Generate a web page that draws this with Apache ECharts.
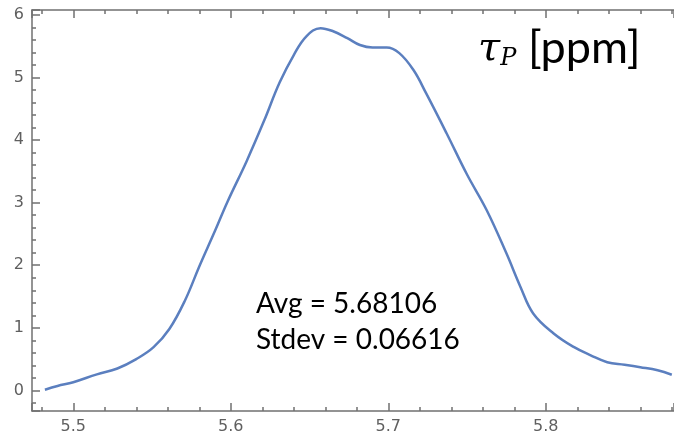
<!DOCTYPE html>
<html>
<head>
<meta charset="utf-8">
<script src="https://cdn.jsdelivr.net/npm/echarts@6/dist/echarts.min.js"></script>
<style>
  html, body { margin: 0; padding: 0; background: #ffffff; }
  #chart { width: 674px; height: 435px; }
</style>
</head>
<body>
<div id="chart"></div>
<script>
// Density estimate of tau_P (ppm)
const xValues = [
  5.482, 5.490, 5.500, 5.515, 5.528, 5.540, 5.551, 5.561, 5.571, 5.580,
  5.590, 5.598, 5.610, 5.621, 5.631, 5.640, 5.648, 5.657, 5.665, 5.674,
  5.682, 5.690, 5.699, 5.707, 5.716, 5.724, 5.737, 5.750, 5.7625, 5.775,
  5.784, 5.792, 5.805, 5.818, 5.8285, 5.839, 5.850, 5.860, 5.871, 5.880
];
const densityValues = [
  0.01, 0.07, 0.13, 0.256, 0.35, 0.50, 0.69, 0.98, 1.44, 1.98,
  2.55, 3.02, 3.66, 4.30, 4.92, 5.36, 5.66, 5.79, 5.74, 5.63,
  5.52, 5.48, 5.48, 5.39, 5.12, 4.75, 4.11, 3.45, 2.88, 2.19,
  1.65, 1.23, 0.91, 0.69, 0.56, 0.45, 0.41, 0.37, 0.32, 0.25
];
const xRange = [5.4738, 5.8814];
const yRange = [-0.33, 6.08];
const statLines = ['Avg = 5.68106', 'Stdev = 0.06616'];

const points = xValues.map((x, i) => [x, densityValues[i]]);

const frameColor = '#707070';
const labelColor = '#5f5f5f';

function frameLine() {
  return { show: true, onZero: false, lineStyle: { color: frameColor, width: 1.5 } };
}
function majorTicks() {
  return { show: true, inside: true, length: 8, lineStyle: { color: frameColor, width: 1.5 } };
}
function minorTicks() {
  return { show: true, splitNumber: 5, length: 4, lineStyle: { color: frameColor, width: 1.5 } };
}

const chart = echarts.init(document.getElementById('chart'), null, { renderer: 'canvas' });
chart.setOption({
  animation: false,
  backgroundColor: '#ffffff',
  grid: { left: 32, right: 0, top: 10, bottom: 24 },
  xAxis: [
    {
      type: 'value', position: 'bottom', min: xRange[0], max: xRange[1],
      axisLine: frameLine(),
      axisTick: majorTicks(),
      minorTick: minorTicks(),
      splitLine: { show: false },
      axisLabel: {
        show: true, showMinLabel: false, showMaxLabel: false, margin: 8,
        color: labelColor, fontSize: 16, fontFamily: 'DejaVu Sans',
        formatter: function (v) { return v.toFixed(1); }
      }
    },
    {
      type: 'value', position: 'top', min: xRange[0], max: xRange[1],
      axisLine: frameLine(),
      axisTick: majorTicks(),
      minorTick: minorTicks(),
      splitLine: { show: false },
      axisLabel: { show: false }
    }
  ],
  yAxis: {
    type: 'value', min: yRange[0], max: yRange[1],
    axisLine: frameLine(),
    axisTick: majorTicks(),
    minorTick: minorTicks(),
    splitLine: { show: false },
    axisLabel: {
      show: true, showMinLabel: false, showMaxLabel: false, margin: 8,
      color: labelColor, fontSize: 16, fontFamily: 'DejaVu Sans'
    }
  },
  series: [{
    type: 'line',
    xAxisIndex: 0,
    data: points,
    smooth: 0.4,
    symbol: 'none',
    clip: true,
    lineStyle: { color: '#5b7fbf', width: 2.5 }
  }],
  graphic: [
    {
      type: 'text', left: 478, top: 30,
      style: {
        text: '{t|τ}{p|P}',
        rich: {
          t: { fontFamily: 'DejaVu Serif', fontStyle: 'italic', fontSize: 40, fill: '#000' },
          p: { fontFamily: 'DejaVu Serif', fontStyle: 'italic', fontSize: 24, fill: '#000', padding: [18, 0, 0, 0] }
        }
      }
    },
    {
      type: 'text', left: 528, top: 26,
      style: { text: '[ppm]', font: '45px Lato', fill: '#000' }
    },
    {
      type: 'text', left: 256, top: 286,
      style: {
        text: statLines.join('\n'),
        font: '28px Lato', fill: '#000', lineHeight: 36
      }
    }
  ]
});
</script>
</body>
</html>
